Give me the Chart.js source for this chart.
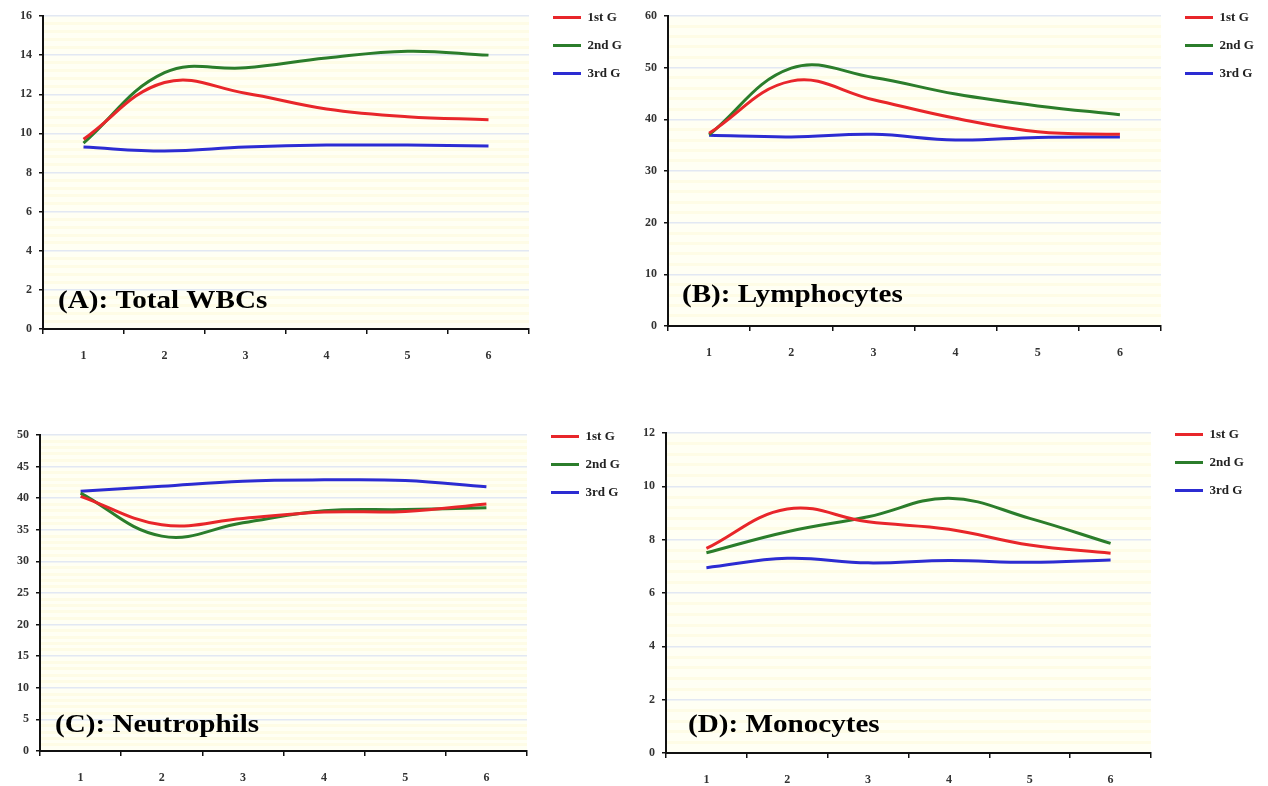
<!DOCTYPE html>
<html>
<head>
<meta charset="utf-8">
<script src="https://cdn.jsdelivr.net/npm/chart.js@4.4.1/dist/chart.umd.min.js"></script>
<style>
  html, body { margin: 0; padding: 0; background: #fff; overflow: hidden; }
  body { width: 1268px; height: 786px; position: relative; }
  canvas { position: absolute; }
</style>
</head>
<body>
<canvas id="chartA"></canvas>
<canvas id="chartB"></canvas>
<canvas id="chartC"></canvas>
<canvas id="chartD"></canvas>
<script>
// datos
var xLabels = ['1', '2', '3', '4', '5', '6'];
var seriesNames = ['1st G', '2nd G', '3rd G'];
var seriesColors = ['#e8262a', '#2b7d2b', '#2c2cd2'];

var wbc1 = [9.7, 12.6, 12.05, 11.25, 10.85, 10.7];
var wbc2 = [9.5, 13.1, 13.35, 13.85, 14.2, 14.0];
var wbc3 = [9.3, 9.1, 9.3, 9.4, 9.4, 9.35];

var lymph1 = [37.3, 47.4, 43.8, 40.2, 37.6, 37.1];
var lymph2 = [37.0, 49.9, 48.1, 44.9, 42.6, 40.9];
var lymph3 = [36.9, 36.6, 37.1, 36.0, 36.5, 36.6];

var neut1 = [40.3, 35.8, 36.8, 37.8, 37.9, 39.1];
var neut2 = [40.8, 34.0, 36.1, 38.0, 38.2, 38.5];
var neut3 = [41.1, 41.9, 42.7, 42.9, 42.8, 41.8];

var mono1 = [7.67, 9.15, 8.67, 8.39, 7.8, 7.49];
var mono2 = [7.51, 8.3, 8.86, 9.55, 8.8, 7.86];
var mono3 = [6.95, 7.3, 7.13, 7.22, 7.15, 7.24];

var panelTitles = ['(A): Total WBCs', '(B): Lymphocytes', '(C): Neutrophils', '(D): Monocytes'];
var yMax = [16, 60, 50, 12];
var yStep = [2, 10, 5, 2];

// posicion de cada panel en la pagina
var paneles = [
  { id: 'chartA', left: 0,   top: 0,   w: 634, h: 366, yW: 43, xH: 37, padR: 104, tx: 15, ty: 21, series: [wbc1, wbc2, wbc3] },
  { id: 'chartB', left: 634, top: 0,   w: 634, h: 363, yW: 34, xH: 37, padR: 106, tx: 14, ty: 24, series: [lymph1, lymph2, lymph3] },
  { id: 'chartC', left: 0,   top: 419, w: 634, h: 367, yW: 40, xH: 35, padR: 106, tx: 15, ty: 19, series: [neut1, neut2, neut3] },
  { id: 'chartD', left: 634, top: 417, w: 634, h: 369, yW: 32, xH: 33, padR: 116, tx: 22, ty: 21, series: [mono1, mono2, mono3] }
];

var serif = "'Liberation Serif', 'Times New Roman', serif";

function esMayor(v, step) {
  var r = v / step;
  return Math.abs(r - Math.round(r)) < 1e-6;
}

// fondo amarillo del area del grafico
var fondoPlugin = {
  id: 'fondo',
  beforeDraw: function (chart) {
    var a = chart.chartArea, ctx = chart.ctx;
    ctx.save();
    ctx.fillStyle = '#fffff4';
    ctx.fillRect(a.left, a.top, a.right - a.left, a.bottom - a.top);
    ctx.restore();
  }
};

// leyenda pegada arriba a la derecha del area
var leyendaPlugin = {
  id: 'leyendaPos',
  afterLayout: function (chart) {
    var a = chart.chartArea;
    if (chart.legend) {
      chart.legend.left = a.right + 9;
      chart.legend.right = a.right + 120;
      chart.legend.top = a.top - 20;
    }
  }
};

// texto del panel dentro del area
var tituloPlugin = {
  id: 'tituloPanel',
  afterDatasetsDraw: function (chart, args, opts) {
    var a = chart.chartArea, ctx = chart.ctx;
    ctx.save();
    ctx.fillStyle = '#000';
    ctx.font = 'bold 26px ' + serif;
    ctx.textBaseline = 'alphabetic';
    ctx.translate(a.left + opts.dx, a.bottom - opts.dy);
    ctx.scale(1.12, 1);
    ctx.fillText(opts.text, 0, 0);
    ctx.restore();
  }
};

paneles.forEach(function (p, k) {
  var canvas = document.getElementById(p.id);
  canvas.width = p.w;
  canvas.height = p.h;
  canvas.style.left = p.left + 'px';
  canvas.style.top = p.top + 'px';

  var datasets = [];
  for (var i = 0; i < 3; i++) {
    datasets.push({
      label: seriesNames[i],
      data: p.series[i],
      borderColor: seriesColors[i],
      backgroundColor: seriesColors[i],
      borderWidth: 3,
      pointRadius: 0,
      tension: 0.4,
      fill: false
    });
  }

  var paso = yStep[k];

  new Chart(canvas, {
    type: 'line',
    data: { labels: xLabels, datasets: datasets },
    plugins: [fondoPlugin, leyendaPlugin, tituloPlugin],
    options: {
      responsive: false,
      animation: false,
      devicePixelRatio: 1,
      layout: { padding: { left: 0, top: 16, right: p.padR, bottom: 0 } },
      plugins: {
        tooltip: { enabled: false },
        legend: {
          position: 'right',
          align: 'start',
          maxWidth: 1,
          labels: {
            usePointStyle: true,
            pointStyle: 'line',
            pointStyleWidth: 28,
            padding: 15,
            color: '#222',
            font: { family: serif, size: 13, weight: 'bold' }
          }
        },
        tituloPanel: { text: panelTitles[k], dx: p.tx, dy: p.ty }
      },
      scales: {
        x: {
          type: 'category',
          offset: true,
          afterFit: function (s) { s.height = p.xH; },
          grid: {
            offset: true,
            drawOnChartArea: false,
            tickLength: 5,
            color: '#111',
            lineWidth: 1.5
          },
          border: { color: '#111', width: 2 },
          ticks: {
            padding: 15,
            color: '#333',
            font: { family: serif, size: 12, weight: 'bold' }
          }
        },
        y: {
          min: 0,
          max: yMax[k],
          afterFit: function (s) { s.width = p.yW; },
          ticks: {
            stepSize: paso / 5,
            autoSkip: false,
            padding: 7,
            color: '#333',
            font: { family: serif, size: 12, weight: 'bold' },
            callback: function (v) { return esMayor(v, paso) ? String(Math.round(v)) : ''; }
          },
          grid: {
            tickLength: 4,
            color: function (c) {
              return esMayor(c.tick.value, paso) ? '#e2e8f3' : 'rgba(250,240,175,0.2)';
            },
            tickColor: function (c) {
              return esMayor(c.tick.value, paso) ? '#111' : 'rgba(0,0,0,0)';
            },
            lineWidth: function (c) {
              return esMayor(c.tick.value, paso) ? 1.5 : 3;
            }
          },
          border: { color: '#111', width: 2 }
        }
      }
    }
  });
});
</script>
</body>
</html>
